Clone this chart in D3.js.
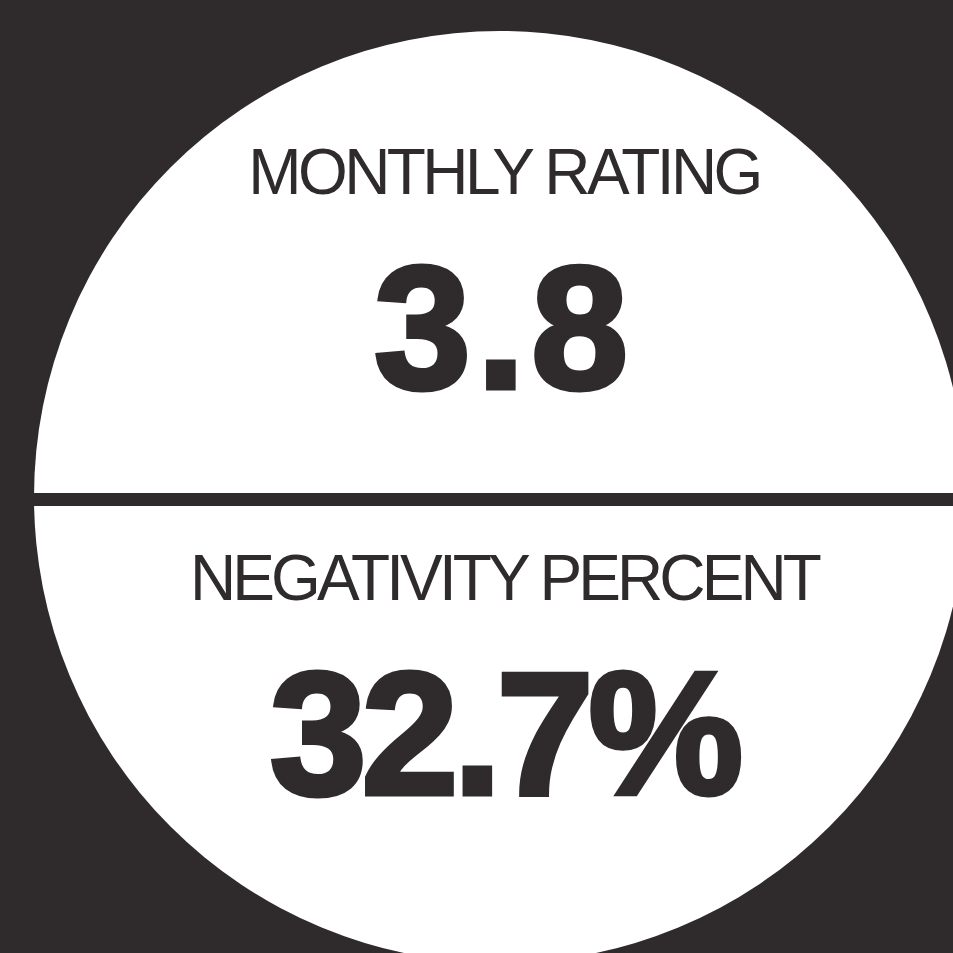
<!DOCTYPE html>
<html>
<head>
<meta charset="utf-8">
<script src="https://cdn.jsdelivr.net/npm/d3@7"></script>
<style>
  html, body { margin: 0; padding: 0; background: #2f2a2b; }
  svg { display: block; }
</style>
</head>
<body>
<svg width="953" height="953"></svg>
<script>
// the two stats shown on the badge
var labels = ["MONTHLY RATING", "NEGATIVITY PERCENT"];
var values = [3.8, 32.7];
var suffixes = ["", "%"];

var svg = d3.select("svg"),
    width = +svg.attr("width"),
    height = +svg.attr("height");

var dark = "#2f2a2b";

svg.append("rect")
    .attr("width", width)
    .attr("height", height)
    .attr("fill", dark);

// big white disc, runs off the right and bottom edges
var cx = 500, cy = 497, r = 466;
svg.append("circle")
    .attr("cx", cx)
    .attr("cy", cy)
    .attr("r", r)
    .attr("fill", "#fff");

// divider from the left edge of the disc out to the page edge
svg.append("line")
    .attr("x1", cx - r)
    .attr("x2", width)
    .attr("y1", 499.5)
    .attr("y2", 499.5)
    .attr("stroke", dark)
    .attr("stroke-width", 13);

// one band per stat, top half and bottom half
var band = d3.scaleBand()
    .domain(d3.range(labels.length))
    .range([0, 812]);

var fmt = d3.format(".1f");

var g = svg.append("g")
    .selectAll("g")
    .data(labels)
    .enter().append("g")
    .attr("transform", function(d, i) { return "translate(504," + band(i) + ")"; });

g.append("text")
    .attr("class", "label")
    .attr("y", 194)
    .attr("text-anchor", "middle")
    .attr("fill", dark)
    .style("font-family", "'Liberation Sans', Arial, sans-serif")
    .style("font-size", "64px")
    .style("letter-spacing", function(d, i) { return i ? "-3.9px" : "-3.6px"; })
    .text(function(d) { return d; });

// heavy numbers: bold face thickened with a stroke of the same colour
g.append("text")
    .attr("class", "value")
    .attr("y", 388)
    .attr("text-anchor", "middle")
    .attr("fill", dark)
    .attr("stroke", dark)
    .attr("stroke-width", 5)
    .style("font-family", "'Liberation Sans', Arial, sans-serif")
    .style("font-weight", 700)
    .style("font-size", "174px")
    .style("letter-spacing", function(d, i) { return i ? "-5px" : "6px"; })
    .text(function(d, i) { return fmt(values[i]) + suffixes[i]; });
</script>
</body>
</html>
